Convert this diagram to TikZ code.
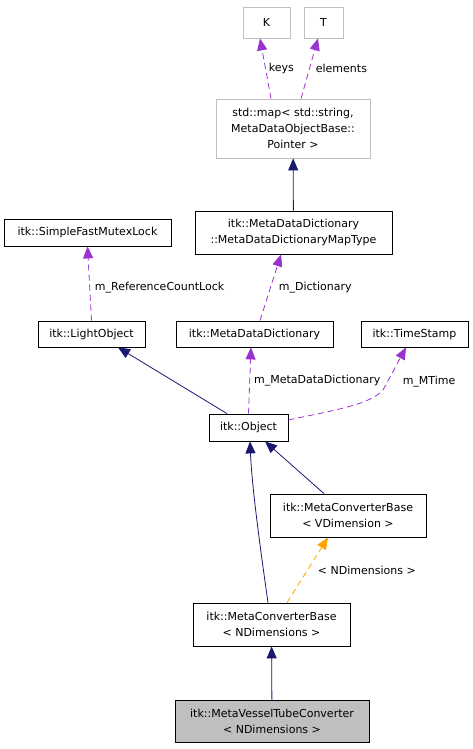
\documentclass[tikz,border=0pt]{standalone}
\usepackage{fontspec}
\setmainfont{DejaVu Sans}
\usetikzlibrary{arrows.meta}
\definecolor{inherit}{HTML}{191970}
\definecolor{member}{HTML}{9A32CD}
\definecolor{templ}{HTML}{FFA500}
\definecolor{frame}{HTML}{BFBFBF}
\tikzset{
  cls/.style={draw=black, fill=white, line width=0.8pt, inner sep=2pt, align=center,
    font=\fontsize{11}{16}\selectfont},
  ext/.style={cls, draw=frame},
  cur/.style={cls, fill=black!25},
  isa/.style={draw=inherit, line width=0.8pt, -{Triangle[length=12pt,width=10pt]}},
  uses/.style={draw=member, line width=0.8pt, dash pattern=on 6pt off 4pt,
    -{Triangle[length=12pt,width=10pt,fill=member]}},
  inst/.style={draw=templ, line width=0.8pt, dash pattern=on 6pt off 4pt,
    -{Triangle[length=12pt,width=10pt,fill=templ]}},
  lbl/.style={font=\fontsize{11}{13}\selectfont, inner sep=0pt, anchor=west}
}
\begin{document}
\begin{tikzpicture}[x=1pt, y=-1pt]
  \useasboundingbox (0,0) rectangle (473,749);

  \node[ext, minimum width=47pt, minimum height=31pt] (k) at (266.5,22.5) {K};
  \node[ext, minimum width=39pt, minimum height=31pt] (t) at (323.5,22.5) {T};
  \node[ext, minimum width=154pt, minimum height=59pt] (map) at (293,128.5)
    {std::map< std::string,\\ MetaDataObjectBase::\\ Pointer >};
  \node[cls, minimum width=197pt, minimum height=43pt] (maptype) at (293.5,232.5)
    {itk::MetaDataDictionary\\ ::MetaDataDictionaryMapType};
  \node[cls, minimum width=167pt, minimum height=27pt] (lock) at (87.5,232.5) {itk::SimpleFastMutexLock};
  \node[cls, minimum width=107pt, minimum height=26pt] (light) at (91.5,334) {itk::LightObject};
  \node[cls, minimum width=157pt, minimum height=26pt] (dict) at (254.5,334) {itk::MetaDataDictionary};
  \node[cls, minimum width=107pt, minimum height=26pt] (stamp) at (414.5,334) {itk::TimeStamp};
  \node[cls, minimum width=79pt, minimum height=27pt] (obj) at (248.5,427.5) {itk::Object};
  \node[cls, minimum width=156pt, minimum height=43pt] (basev) at (348,515.5)
    {itk::MetaConverterBase\\ < VDimension >};
  \node[cls, minimum width=157pt, minimum height=43pt] (basen) at (271.5,624.5)
    {itk::MetaConverterBase\\ < NDimensions >};
  \node[cur, minimum width=194pt, minimum height=42pt] (tube) at (272,721)
    {itk::MetaVesselTubeConverter\\ < NDimensions >};

  % members
  \draw[uses] (map.north west -| 271,0) -- (k.south east -| 260,0)
    node[lbl, midway, xshift=3pt] {keys};
  \draw[uses] (map.north west -| 301,0) -- (t.south east -| 318,0)
    node[lbl, midway, xshift=6pt] {elements};
  \draw[uses] (light.north) -- (lock.south) node[lbl, midway, xshift=5pt, yshift=-4pt] {m\_ReferenceCountLock};
  \draw[uses] (dict.north east -| 260,0) -- (maptype.south west -| 281,0)
    node[lbl, midway, xshift=8pt] {m\_Dictionary};
  \draw[uses] (obj.north) -- (dict.south west -| 251,0)
    node[lbl, midway, xshift=4pt] {m\_MetaDataDictionary};
  \draw[uses] (obj.east |- 0,420) .. controls (330,411) and (370,405) .. (383,390)
    -- (stamp.south west -| 406,0) node[lbl, pos=0.45, xshift=9pt, yshift=-11pt] {m\_MTime};
  \draw[inst] (basen.north west -| 287,0) -- (basev.south west -| 328,0)
    node[lbl, midway, xshift=10pt] {< NDimensions >};

  % inheritance
  \draw[isa] (maptype) -- (map);
  \draw[isa] (obj.north west -| 227,0) -- (light.south west -| 118,0);
  \draw[isa] (basev.north west -| 324,0) -- (obj.south west -| 265,0);
  \draw[isa] (basen.north west -| 268,0) .. controls (262,560) and (252,490) .. (obj.south west -| 250,0);
  \draw[isa] (tube) -- (basen);
\end{tikzpicture}
\end{document}
